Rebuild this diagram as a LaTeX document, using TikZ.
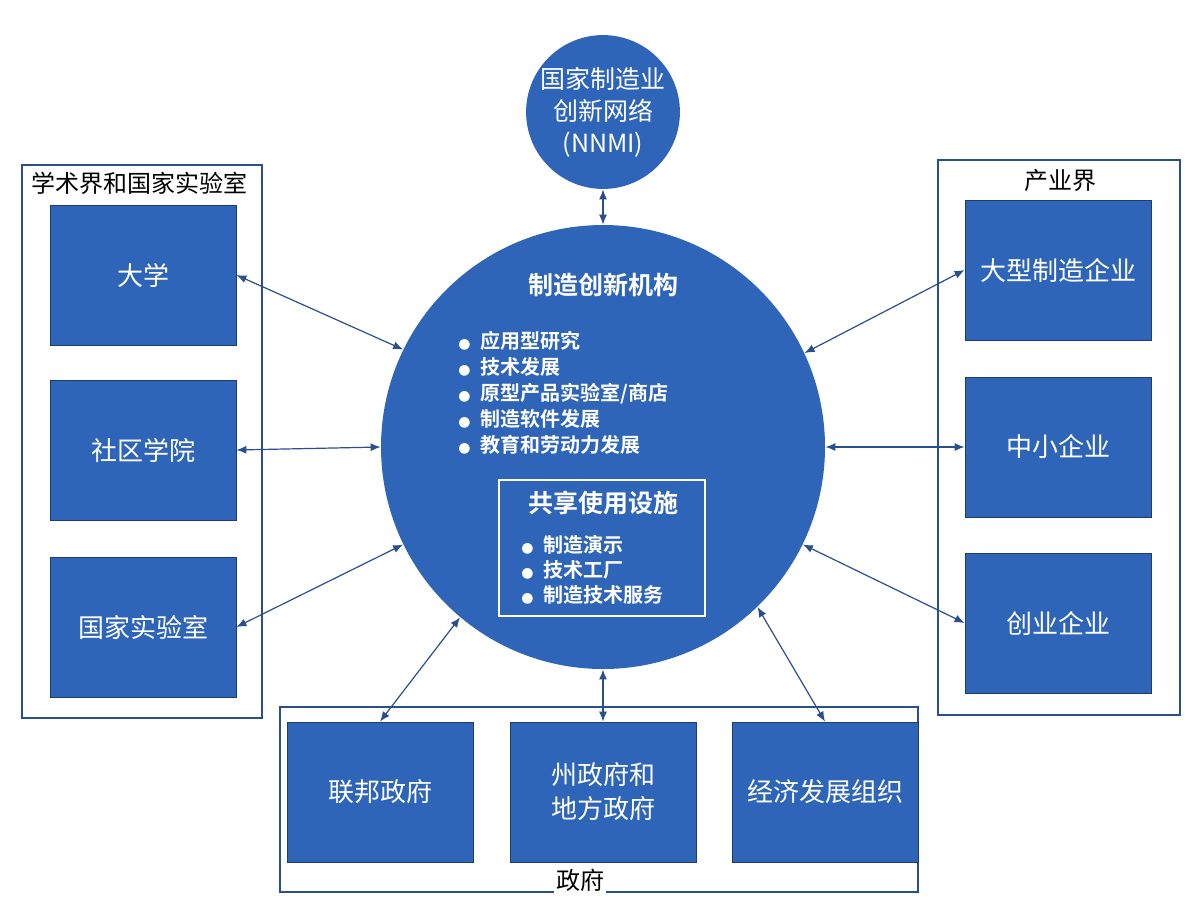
\documentclass[tikz,border=0pt]{standalone}
\usepackage{fontspec}
\setmainfont{Noto Sans CJK SC}[BoldFont={Noto Sans CJK SC Bold}]
\newfontfamily\dv{DejaVu Sans}
\usetikzlibrary{arrows.meta}
\definecolor{bblue}{HTML}{2E65B8}
\definecolor{fblue}{HTML}{2A4F8F}
\newcommand{\bul}{{\dv\fontsize{7}{7}\selectfont ●}\hspace{5pt}}
\begin{document}
\begin{tikzpicture}[x=0.5pt,y=-0.5pt,
  bx/.style={fill=bblue,draw=bblue!60!black,line width=0.4pt,minimum width=93pt,minimum height=70pt,text=white,align=center,font=\fontsize{13}{17}\selectfont},
  frm/.style={draw=fblue,line width=0.6pt},
  lab/.style={font=\fontsize{12}{14}\selectfont,text=black},
  arr/.style={{Latex[length=5pt,width=4pt]}-{Latex[length=5pt,width=4pt]},draw=fblue,line width=0.6pt}]
\fill[white] (0,0) rectangle (1200,902);
\useasboundingbox (0,0) rectangle (1200,902);
% frames
\draw[frm] (22,165) rectangle (262,718);
\draw[frm] (938,160) rectangle (1180,715);
\draw[frm] (280,707) rectangle (918,892);
\node[lab,fill=white,inner sep=1pt] (labA) at (140,183) {学术界和国家实验室};
\node[lab,fill=white,inner sep=1pt] (labB) at (1060,180) {产业界};
\node[lab,fill=white,inner sep=1pt] (labC) at (580,880) {政府};
% circles
\node[circle,fill=bblue,minimum size=76pt,inner sep=0pt,text=white,align=center,font=\fontsize{12.5}{16}\selectfont] (top) at (603,112) {国家制造业\\创新网络\\(NNMI)};
\node[circle,fill=bblue,minimum size=222pt,inner sep=0pt] (main) at (603,447) {};
\node[text=white,font=\bfseries\fontsize{12.5}{14}\selectfont] (mt) at (603,285) {制造创新机构};
\node[text=white,anchor=north west,align=left,inner sep=0pt,font=\bfseries\fontsize{10}{13}\selectfont] (bl) at (458,331) {\bul 应用型研究\\\bul 技术发展\\\bul 原型产品实验室/商店\\\bul 制造软件发展\\\bul 教育和劳动力发展};
\node[draw=white,line width=1.2pt,minimum width=103pt,minimum height=68pt] (inner) at (602,548) {};
\node[text=white,font=\bfseries\fontsize{12.5}{14}\selectfont] (it) at (603,503) {共享使用设施};
\node[text=white,anchor=north west,align=left,inner sep=0pt,font=\bfseries\fontsize{10}{12.5}\selectfont] (il) at (521,535) {\bul 制造演示\\\bul 技术工厂\\\bul 制造技术服务};
% boxes
\node[bx] (l1) at (143,275) {大学};
\node[bx] (l2) at (143,450) {社区学院};
\node[bx] (l3) at (143,627) {国家实验室};
\node[bx] (r1) at (1058,270) {大型制造企业};
\node[bx] (r2) at (1058,447) {中小企业};
\node[bx] (r3) at (1058,623) {创业企业};
\node[bx] (g1) at (380,792) {联邦政府};
\node[bx] (g2) at (603,792) {州政府和\\地方政府};
\node[bx] (g3) at (825,792) {经济发展组织};
% arrows
\draw[arr] (top.south) -- (main.north);
\draw[arr] (l1.east) -- (main.154.5);
\draw[arr] (l2.east) -- (main.180);
\draw[arr] (l3.east) -- (main.206);
\draw[arr] (r1.west) -- (main.25.5);
\draw[arr] (r2.west) -- (main.0);
\draw[arr] (r3.west) -- (main.334);
\draw[arr] (g1.north) -- (main.230.5);
\draw[arr] (g2.north) -- (main.south);
\draw[arr] (g3.north) -- (main.314);
\end{tikzpicture}
\end{document}
